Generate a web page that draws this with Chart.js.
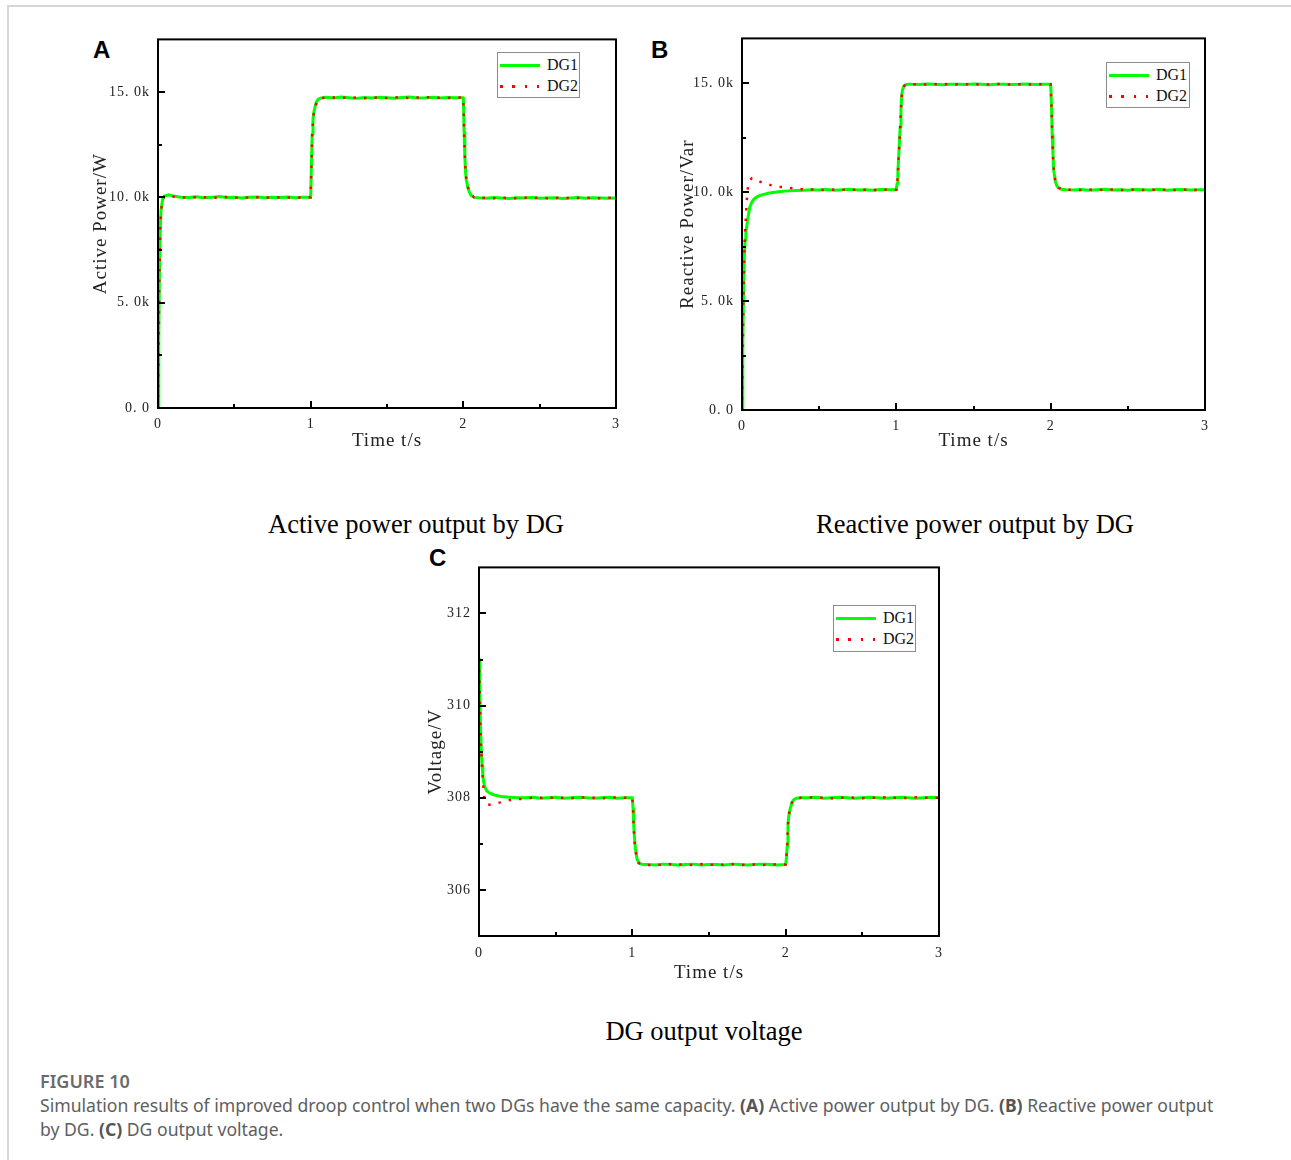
<!DOCTYPE html>
<html>
<head>
<meta charset="utf-8">
<script src="https://cdn.jsdelivr.net/npm/chart.js@4.4.1/dist/chart.umd.min.js"></script>
<style>
  html, body { margin:0; padding:0; background:#fff; }
  body { width:1291px; height:1160px; position:relative; overflow:hidden; }
  .frame { position:absolute; left:7px; top:5px; width:1290px; height:1160px; border-top:2px solid #d6d6d6; border-left:2px solid #d6d6d6; }
  canvas { position:absolute; }
  .panel { position:absolute; font-family:'Liberation Sans', Arial, sans-serif; font-weight:bold; font-size:24px; line-height:24px; color:#000; }
  .cap { position:absolute; font-family:'Liberation Serif', 'Times New Roman', serif; font-size:26.5px; line-height:30px; color:#000; white-space:nowrap; transform:translateX(-50%); }
  .legend { position:absolute; border:1px solid #8c8c8c; background:#fff; font-family:'Liberation Serif', serif; font-size:16px; }
  .legend .row { position:absolute; left:0; height:20px; width:100%; }
  .legend .solid { position:absolute; left:2px; width:40px; height:3px; background:#00ff00; }
  .legend .dots { position:absolute; left:2px; width:40px; height:3px; background-image:repeating-linear-gradient(to right, #ff0000 0 2.5px, transparent 2.5px 12.3px); }
  .legend .lab { position:absolute; left:49px; line-height:20px; color:#111; }
  .figt { position:absolute; left:40px; top:1069px; font-family:'Noto Sans', sans-serif; font-size:18px; font-weight:600; color:#6b6b6b; line-height:24px; }
  .figc { position:absolute; left:40px; top:1093px; font-family:'Noto Sans', sans-serif; font-size:17.6px; color:#5e5e5e; line-height:24px; white-space:nowrap; }
  .figc b { font-weight:700; color:#555; }
</style>
</head>
<body>
<div class="frame"></div>

<div class="panel" style="left:93px;top:38px;">A</div>
<div class="panel" style="left:651px;top:38px;">B</div>
<div class="panel" style="left:429px;top:546px;">C</div>

<canvas id="chartA" width="560" height="437" style="left:80px;top:23px;"></canvas>
<canvas id="chartB" width="560" height="440" style="left:665px;top:22px;"></canvas>
<canvas id="chartC" width="550" height="436" style="left:410px;top:551px;"></canvas>

<div class="legend" style="left:497px;top:52px;width:81px;height:44px;">
  <div class="row" style="top:2px;"><div class="solid" style="top:9px;"></div><div class="lab">DG1</div></div>
  <div class="row" style="top:23px;"><div class="dots" style="top:9px;"></div><div class="lab">DG2</div></div>
</div>
<div class="legend" style="left:1106px;top:62px;width:82px;height:44px;">
  <div class="row" style="top:2px;"><div class="solid" style="top:9px;"></div><div class="lab">DG1</div></div>
  <div class="row" style="top:23px;"><div class="dots" style="top:9px;"></div><div class="lab">DG2</div></div>
</div>
<div class="legend" style="left:833px;top:605px;width:81px;height:45px;">
  <div class="row" style="top:2px;"><div class="solid" style="top:9px;"></div><div class="lab">DG1</div></div>
  <div class="row" style="top:23px;"><div class="dots" style="top:9px;"></div><div class="lab">DG2</div></div>
</div>

<div class="cap" style="left:416px;top:509px;">Active power output by DG</div>
<div class="cap" style="left:975px;top:509px;">Reactive power output by DG</div>
<div class="cap" style="left:704px;top:1016px;">DG output voltage</div>

<div class="figt">FIGURE 10</div>
<div class="figc">Simulation results of improved droop control when two DGs have the same capacity. <b>(A)</b> Active power output by DG. <b>(B)</b> Reactive power output<br>by DG. <b>(C)</b> DG output voltage.</div>

<script>
// ---------------- DATA ----------------
const SERIES_NAMES = ['DG1', 'DG2'];

const X_TICKS = [0, 1, 2, 3];
const X_TICK_LABELS = ['0', '1', '2', '3'];
const X_MINOR = [0.5, 1.5, 2.5];

// Panel A: active power (W)
const TIME_A = [0, 0.005, 0.01, 0.015, 0.02, 0.03, 0.04, 0.05, 0.07, 0.1,
  0.15, 0.2, 0.25, 0.3, 0.35, 0.4, 0.45, 0.5, 0.55, 0.6, 0.65, 0.7, 0.75, 0.8, 0.85, 0.9, 0.95,
  1.0,
  1.005, 1.01, 1.015, 1.02, 1.03, 1.04, 1.05, 1.07, 1.1,
  1.15, 1.2, 1.25, 1.3, 1.35, 1.4, 1.45, 1.5, 1.55, 1.6, 1.65, 1.7, 1.75, 1.8, 1.85, 1.9, 1.95,
  2.0,
  2.005, 2.01, 2.015, 2.02, 2.03, 2.04, 2.05, 2.07, 2.1,
  2.15, 2.2, 2.25, 2.3, 2.35, 2.4, 2.45, 2.5, 2.55, 2.6, 2.65, 2.7, 2.75, 2.8, 2.85, 2.9, 2.95,
  3.0];
const A_DG1 = [0, 3500, 6800, 8600, 9400, 9900, 10050, 10080, 10120, 10060,
  10010, 9990, 10030, 9980, 10000, 10040, 9990, 10010, 9970, 10010, 10020, 9980, 10000, 9990, 10020, 9980, 10000,
  10000,
  11600, 13000, 13700, 14000, 14350, 14560, 14660, 14720, 14750,
  14720, 14760, 14730, 14700, 14740, 14720, 14750, 14730, 14710, 14740, 14760, 14720, 14730, 14750, 14720, 14740, 14730,
  14730,
  13100, 11900, 11150, 10800, 10450, 10250, 10100, 10000, 9980,
  9960, 9990, 9970, 9950, 9980, 9970, 9990, 9960, 9970, 9980, 9950, 9970, 9990, 9960, 9980, 9970, 9960,
  9970];
const A_DG2 = [0, 3300, 6700, 8500, 9350, 9880, 10030, 10060, 10100, 10040,
  9990, 10020, 10000, 10010, 9970, 10010, 10020, 9980, 10000, 9990, 10000, 10010, 9970, 10010, 9990, 10000, 9990,
  10000,
  11500, 12900, 13650, 13950, 14300, 14540, 14650, 14710, 14740,
  14740, 14720, 14750, 14730, 14710, 14740, 14730, 14720, 14750, 14730, 14720, 14740, 14760, 14720, 14730, 14720, 14740,
  14740,
  13200, 12000, 11200, 10850, 10500, 10280, 10120, 10010, 9970,
  9980, 9960, 9980, 9970, 9960, 9990, 9970, 9980, 9960, 9970, 9990, 9960, 9970, 9980, 9970, 9960, 9980,
  9970];
const A_Y_TICKS = [0, 5000, 10000, 15000];
const A_Y_TICK_LABELS = ['0. 0', '5. 0k', '10. 0k', '15. 0k'];
const A_Y_MINOR = [2500, 7500, 12500];

// Panel B: reactive power (Var)
const TIME_B = [0, 0.005, 0.01, 0.015, 0.02, 0.025, 0.03, 0.04, 0.05, 0.065, 0.08, 0.1, 0.12, 0.14, 0.17, 0.2, 0.25, 0.3,
  0.35, 0.4, 0.45, 0.5, 0.55, 0.6, 0.65, 0.7, 0.75, 0.8, 0.85, 0.9, 0.95,
  1.0,
  1.005, 1.01, 1.015, 1.02, 1.025, 1.03, 1.035, 1.04, 1.05, 1.06, 1.08, 1.1,
  1.15, 1.2, 1.25, 1.3, 1.35, 1.4, 1.45, 1.5, 1.55, 1.6, 1.65, 1.7, 1.75, 1.8, 1.85, 1.9, 1.95,
  2.0,
  2.005, 2.01, 2.015, 2.02, 2.03, 2.04, 2.05, 2.07, 2.1,
  2.15, 2.2, 2.25, 2.3, 2.35, 2.4, 2.45, 2.5, 2.55, 2.6, 2.65, 2.7, 2.75, 2.8, 2.85, 2.9, 2.95,
  3.0];
const B_DG1 = [0, 3000, 5500, 7000, 7800, 8150, 8400, 8900, 9300, 9560, 9700, 9800, 9850, 9900, 9950, 9990, 10030, 10060,
  10080, 10090, 10110, 10100, 10120, 10090, 10110, 10130, 10100, 10110, 10090, 10120, 10110,
  10110,
  10400, 10900, 11600, 12300, 13000, 13800, 14450, 14700, 14880, 14930, 14960, 14950,
  14940, 14970, 14950, 14930, 14960, 14950, 14940, 14970, 14950, 14930, 14950, 14960, 14940, 14950, 14970, 14940, 14950,
  14950,
  14000, 12600, 11700, 11000, 10500, 10300, 10200, 10130, 10110,
  10100, 10120, 10090, 10110, 10130, 10100, 10110, 10090, 10120, 10110, 10100, 10130, 10090, 10110, 10120, 10100, 10110,
  10110];
const B_DG2 = [0, 2500, 5500, 7200, 8200, 8800, 9550, 10350, 10550, 10650, 10620, 10540, 10470, 10400, 10350, 10300, 10240, 10200,
  10160, 10130, 10120, 10110, 10100, 10120, 10110, 10100, 10120, 10110, 10100, 10110, 10120,
  10110,
  10350, 10850, 11550, 12250, 12950, 13750, 14400, 14680, 14870, 14930, 14950, 14960,
  14950, 14940, 14960, 14950, 14970, 14940, 14950, 14960, 14940, 14950, 14970, 14950, 14940, 14960, 14950, 14940, 14960,
  14950,
  14100, 12700, 11750, 11050, 10550, 10320, 10210, 10140, 10110,
  10110, 10100, 10120, 10110, 10100, 10120, 10100, 10110, 10120, 10100, 10110, 10120, 10110, 10100, 10120, 10110, 10100,
  10110];
const B_Y_TICKS = [0, 5000, 10000, 15000];
const B_Y_TICK_LABELS = ['0. 0', '5. 0k', '10. 0k', '15. 0k'];
const B_Y_MINOR = [2500, 7500, 12500];

// Panel C: voltage (V)
const TIME_C = [0, 0.005, 0.01, 0.015, 0.02, 0.025, 0.03, 0.035, 0.04, 0.05, 0.07, 0.1, 0.14, 0.2, 0.25, 0.3,
  0.35, 0.4, 0.45, 0.5, 0.55, 0.6, 0.65, 0.7, 0.75, 0.8, 0.85, 0.9, 0.95,
  1.0,
  1.005, 1.01, 1.015, 1.02, 1.03, 1.04, 1.05, 1.07, 1.1,
  1.15, 1.2, 1.25, 1.3, 1.35, 1.4, 1.45, 1.5, 1.55, 1.6, 1.65, 1.7, 1.75, 1.8, 1.85, 1.9, 1.95,
  2.0,
  2.005, 2.01, 2.015, 2.02, 2.03, 2.04, 2.05, 2.07, 2.1,
  2.15, 2.2, 2.25, 2.3, 2.35, 2.4, 2.45, 2.5, 2.55, 2.6, 2.65, 2.7, 2.75, 2.8, 2.85, 2.9, 2.95,
  3.0];
const C_DG1 = [311.0, 310.2, 309.5, 309.0, 308.7, 308.5, 308.35, 308.28, 308.22, 308.15, 308.1, 308.06, 308.03, 308.01, 308.0, 308.0,
  308.01, 307.99, 308.0, 308.01, 307.99, 308.0, 308.01, 308.0, 307.99, 308.0, 308.01, 307.99, 308.0,
  308.0,
  307.75, 307.35, 307.08, 306.9, 306.68, 306.6, 306.57, 306.55, 306.55,
  306.54, 306.56, 306.55, 306.54, 306.55, 306.56, 306.54, 306.55, 306.55, 306.54, 306.56, 306.55, 306.54, 306.55, 306.56, 306.55, 306.54,
  306.55,
  306.7, 306.95, 307.4, 307.6, 307.77, 307.88, 307.95, 307.99, 308.0,
  308.0, 308.01, 307.99, 308.0, 308.01, 308.0, 307.99, 308.0, 308.01, 308.0, 307.99, 308.0, 308.01, 308.0, 307.99, 308.0, 308.01,
  308.0];
const C_DG2 = [311.0, 310.2, 309.5, 309.0, 308.65, 308.4, 308.15, 307.98, 307.9, 307.86, 307.85, 307.88, 307.9, 307.95, 307.97, 307.98,
  308.0, 308.0, 307.99, 308.01, 308.0, 307.99, 308.0, 308.01, 308.0, 307.99, 308.0, 308.01, 308.0,
  308.0,
  307.72, 307.3, 307.05, 306.88, 306.66, 306.59, 306.56, 306.55, 306.54,
  306.55, 306.54, 306.56, 306.55, 306.55, 306.54, 306.56, 306.55, 306.54, 306.55, 306.56, 306.54, 306.55, 306.55, 306.54, 306.56, 306.55,
  306.55,
  306.72, 306.97, 307.42, 307.62, 307.78, 307.89, 307.95, 307.99, 308.0,
  308.01, 308.0, 308.0, 307.99, 308.0, 308.01, 308.0, 307.99, 308.0, 308.0, 308.01, 308.0, 307.99, 308.0, 308.01, 308.0, 308.0,
  308.0];
const C_Y_TICKS = [306, 308, 310, 312];
const C_Y_TICK_LABELS = ['306', '308', '310', '312'];
const C_Y_MINOR = [307, 309, 311];

// ---------------- RENDERING ----------------
const points = (t, v) => t.map((x, i) => ({x: x, y: v[i]}));

const framePlugin = {
  id: 'frame',
  beforeUpdate(chart) { chart.ctx.letterSpacing = '1px'; },
  beforeDraw(chart) { chart.ctx.letterSpacing = '1px'; },
  afterDatasetsDraw(chart, args, o) {
    const {ctx, chartArea: a, scales: {x, y}} = chart;
    ctx.save();
    ctx.strokeStyle = '#000';
    ctx.lineWidth = 2;
    ctx.strokeRect(a.left, a.top, a.right - a.left, a.bottom - a.top);
    ctx.beginPath();
    o.xMajor.forEach(v => { const p = Math.round(x.getPixelForValue(v)); ctx.moveTo(p, a.bottom); ctx.lineTo(p, a.bottom - 7); });
    o.xMinor.forEach(v => { const p = Math.round(x.getPixelForValue(v)); ctx.moveTo(p, a.bottom); ctx.lineTo(p, a.bottom - 4); });
    o.yMajor.forEach(v => { const p = Math.round(y.getPixelForValue(v)); ctx.moveTo(a.left, p); ctx.lineTo(a.left + 7, p); });
    o.yMinor.forEach(v => { const p = Math.round(y.getPixelForValue(v)); ctx.moveTo(a.left, p); ctx.lineTo(a.left + 4, p); });
    ctx.stroke();
    ctx.restore();
  }
};

function makeChart(id, cfg) {
  const tickFont = {family: "'Liberation Serif', serif", size: 14};
  const titleFont = {family: "'Liberation Serif', serif", size: 19};
  return new Chart(document.getElementById(id), {
    type: 'line',
    data: {
      datasets: [
        { label: SERIES_NAMES[0], data: points(cfg.t, cfg.s1), borderColor: '#00ff00', borderWidth: 3,
          pointRadius: 0, tension: 0, order: 1, borderJoinStyle: 'round' },
        { label: SERIES_NAMES[1], data: points(cfg.t, cfg.s2), borderColor: '#ff0000', borderWidth: 2.5,
          borderDash: [2.5, 8], borderCapStyle: 'butt', pointRadius: 0, tension: 0, order: 0 }
      ]
    },
    plugins: [framePlugin],
    options: {
      responsive: false,
      animation: false,
      events: [],
      layout: { padding: cfg.pad },
      plugins: {
        legend: { display: false },
        tooltip: { enabled: false },
        frame: { xMajor: X_TICKS, xMinor: X_MINOR, yMajor: cfg.yTicks, yMinor: cfg.yMinor }
      },
      scales: {
        x: {
          type: 'linear', position: 'bottom', min: 0, max: 3,
          grid: { display: false, drawTicks: false },
          border: { display: false },
          afterBuildTicks: s => { s.ticks = X_TICKS.map(v => ({value: v})); },
          afterFit: s => { s.height = cfg.xH; },
          ticks: { font: tickFont, color: '#222', padding: cfg.xPad, maxRotation: 0, autoSkip: false,
                   callback: (v, i) => X_TICK_LABELS[i] },
          title: { display: true, text: 'Time t/s', font: titleFont, color: '#222', padding: {top: 0, bottom: cfg.xTitlePad} }
        },
        y: {
          type: 'linear', position: 'left', min: cfg.yMin, max: cfg.yMax,
          grid: { display: false, drawTicks: false },
          border: { display: false },
          afterBuildTicks: s => { s.ticks = cfg.yTicks.map(v => ({value: v})); },
          afterFit: s => { s.width = cfg.yW; },
          ticks: { font: tickFont, color: '#222', padding: 8, autoSkip: false,
                   callback: (v, i) => cfg.yLabels[i] },
          title: { display: true, text: cfg.yTitle, font: titleFont, color: '#222', padding: {top: cfg.yTitlePad, bottom: 0} }
        }
      }
    }
  });
}

makeChart('chartA', {
  t: TIME_A, s1: A_DG1, s2: A_DG2,
  yMin: 0, yMax: 17500, yTicks: A_Y_TICKS, yLabels: A_Y_TICK_LABELS, yMinor: A_Y_MINOR,
  yTitle: 'Active Power/W', pad: {top: 9, right: 24, left: 0, bottom: 0},
  yW: 78, xH: 52, xPad: 8, xTitlePad: 8, yTitlePad: 10
});
makeChart('chartB', {
  t: TIME_B, s1: B_DG1, s2: B_DG2,
  yMin: 0, yMax: 17060, yTicks: B_Y_TICKS, yLabels: B_Y_TICK_LABELS, yMinor: B_Y_MINOR,
  yTitle: 'Reactive Power/Var', pad: {top: 10, right: 20, left: 0, bottom: 0},
  yW: 77, xH: 52, xPad: 8, xTitlePad: 10, yTitlePad: 12
});
makeChart('chartC', {
  t: TIME_C, s1: C_DG1, s2: C_DG2,
  yMin: 305, yMax: 313, yTicks: C_Y_TICKS, yLabels: C_Y_TICK_LABELS, yMinor: C_Y_MINOR,
  yTitle: 'Voltage/V', pad: {top: 10, right: 21, left: 0, bottom: 0},
  yW: 69, xH: 51, xPad: 9, xTitlePad: 3, yTitlePad: 15
});
</script>
</body>
</html>
